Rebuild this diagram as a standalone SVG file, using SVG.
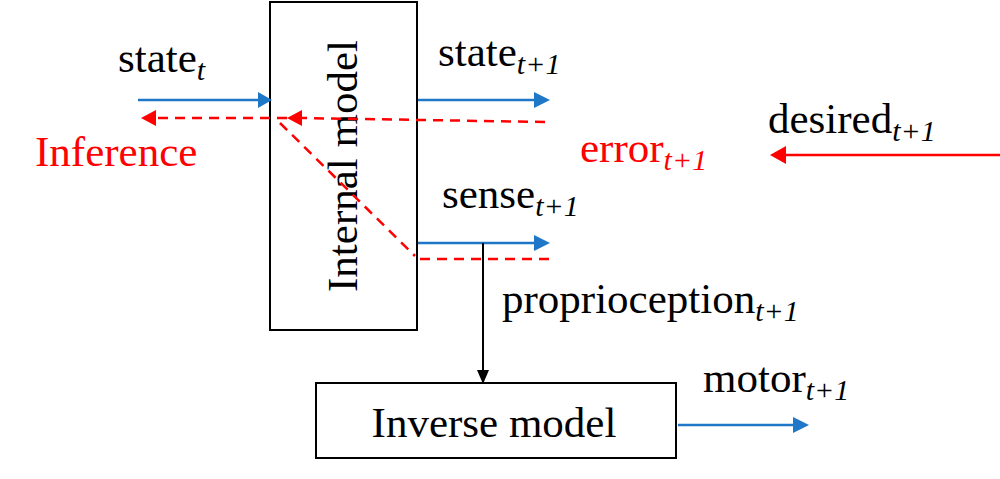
<svg xmlns="http://www.w3.org/2000/svg" width="1000" height="479" viewBox="0 0 1000 479">
<style>
text{font-family:"Times New Roman","Liberation Serif","DejaVu Serif",serif;font-size:43px;fill:#000}
.r{fill:#f00}
.s{font-size:30px;font-style:italic}
.b{stroke:#1f77c8;stroke-width:2.5;fill:none}
.d{stroke:#f00;stroke-width:2.5;fill:none;stroke-dasharray:10,7}
.box{fill:#fff;stroke:#000;stroke-width:2}
</style>
<g id="internal"><rect class="box" x="270" y="2" width="147" height="328"/>
<text transform="translate(357,166) rotate(-90)" text-anchor="middle" font-size="40">Internal model</text></g>
<g id="inverse"><rect class="box" x="316" y="383" width="360" height="75"/>
<text x="494" y="437" text-anchor="middle" font-size="40">Inverse model</text></g>
<g id="connectors">
<line class="b" x1="138" y1="100" x2="260" y2="100"/><path d="M258,92L272,100L258,108z" fill="#1f77c8"/>
<line class="b" x1="418" y1="100" x2="536" y2="100"/><path d="M534,92L550,100L534,108z" fill="#1f77c8"/>
<line class="b" x1="418" y1="243" x2="536" y2="243"/><path d="M534,235L550,243L534,251z" fill="#1f77c8"/>
<line class="b" x1="678" y1="425" x2="795" y2="425"/><path d="M793,417L809,425L793,433z" fill="#1f77c8"/>
<line class="d" x1="545" y1="122" x2="300" y2="118"/><path d="M302,110L287,118L302,126z" fill="#f00"/>
<line class="d" x1="287" y1="118" x2="155" y2="118"/><path d="M156,110L141,118L156,126z" fill="#f00"/>
<line class="d" x1="280" y1="123" x2="415" y2="256"/>
<line class="d" x1="420" y1="259" x2="550" y2="259"/>
<line stroke="#f00" stroke-width="2.5" x1="1000" y1="155" x2="785" y2="155"/><path d="M786,146L770,155L786,164z" fill="#f00"/>
<line stroke="#000" stroke-width="2" x1="483" y1="243" x2="483" y2="372"/><path d="M477,370L483,384L489,370z" fill="#000"/>
</g>
<g id="labels">
<text x="118" y="72">state<tspan class="s" dy="8">t</tspan></text>
<text x="438" y="66">state<tspan class="s" dy="8">t+1</tspan></text>
<text class="r" x="35" y="166">Inference</text>
<text class="r" x="580" y="162">error<tspan class="s r" dy="8">t+1</tspan></text>
<text x="768" y="133">desired<tspan class="s" dy="8">t+1</tspan></text>
<text x="442" y="208">sense<tspan class="s" dy="8">t+1</tspan></text>
<text x="502" y="313">proprioception<tspan class="s" dy="8">t+1</tspan></text>
<text x="703" y="392">motor<tspan class="s" dy="8">t+1</tspan></text>
</g>
</svg>
